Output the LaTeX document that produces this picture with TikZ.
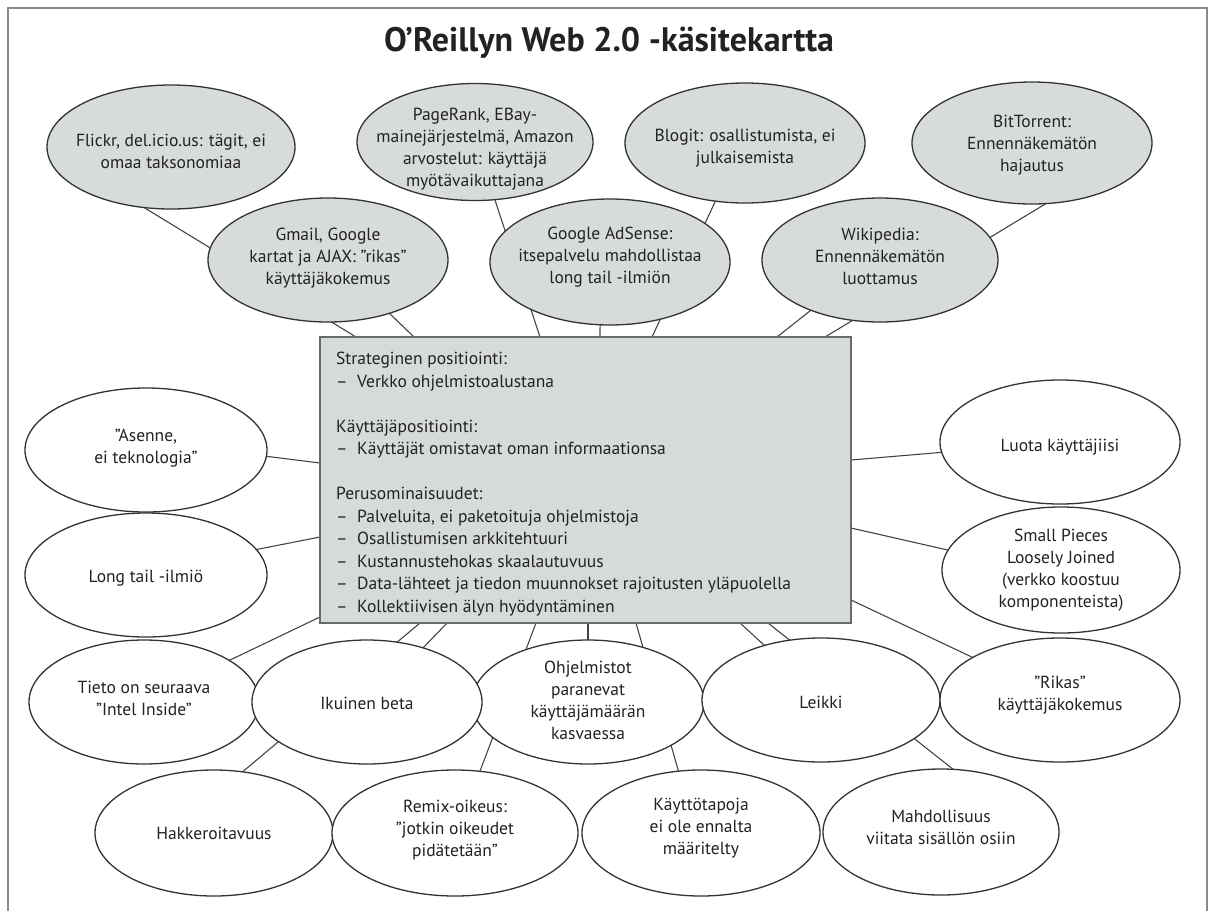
\documentclass[tikz,border=0pt]{standalone}
\usepackage{fontspec}
\setmainfont{PT Sans}
\usetikzlibrary{shapes.geometric,backgrounds}
\definecolor{elfill}{HTML}{D8DBDB}
\definecolor{boxfill}{HTML}{D6DADA}
\definecolor{edgec}{HTML}{333333}
\definecolor{linec}{HTML}{444444}
\definecolor{txtc}{HTML}{222222}
\definecolor{framec}{HTML}{8A8A8A}
\definecolor{boxedge}{HTML}{6A6A6A}
\newcommand{\dl}{\makebox[21pt][l]{–}}
\tikzset{
  elbase/.style={ellipse, draw=edgec, line width=1.3pt, inner sep=0pt, outer sep=0pt},
  gel/.style 2 args={elbase, fill=elfill, minimum width=#1, minimum height=#2},
  wel/.style 2 args={elbase, fill=white, minimum width=#1, minimum height=#2},
  lbl/.style={align=center, text=txtc, font=\fontsize{17.5}{22}\selectfont, inner sep=0pt},
  conn/.style={draw=linec, line width=1.1pt},
  boxst/.style={draw=boxedge, fill=boxfill, line width=1.5pt, inner sep=0pt, outer sep=0pt},
  boxtxt/.style={align=left, text=txtc, font=\fontsize{17.5}{22.5}\selectfont, inner sep=0pt},
  titlest/.style={text=txtc, font=\fontsize{34}{40}\selectfont\bfseries, inner sep=0pt},
}
\begin{document}
\begin{tikzpicture}[x=1pt, y=-1pt]
\useasboundingbox (0,0) rectangle (1218,911);

\node[titlest, anchor=base] (title) at (609,51) {O’Reillyn Web 2.0 -käsitekartta};

% central box
\node[boxst, minimum width=531pt, minimum height=286pt, anchor=north west] (box) at (320,337) {};
\node[boxtxt, anchor=north west] (boxtext) at (336,352) {Strateginen positiointi:\\
\dl Verkko ohjelmistoalustana\\[22.5pt]
Käyttäjäpositiointi:\\
\dl Käyttäjät omistavat oman informaationsa\\[22.5pt]
Perusominaisuudet:\\
\dl Palveluita, ei paketoituja ohjelmistoja\\
\dl Osallistumisen arkkitehtuuri\\
\dl Kustannustehokas skaalautuvuus\\
\dl Data-lähteet ja tiedon muunnokset rajoitusten yläpuolella\\
\dl Kollektiivisen älyn hyödyntäminen};

% top grey ellipses
\node[gel={248pt}{124pt}] (flickr) at (171,147) {};
\node[gel={236pt}{117pt}] (pagerank) at (475,142) {};
\node[gel={240pt}{120pt}] (blogit) at (745,143) {};
\node[gel={240pt}{122pt}] (bittorrent) at (1032,143) {};
\node[gel={240pt}{124pt}] (gmail) at (328,260) {};
\node[gel={240pt}{126pt}] (adsense) at (610,262) {};
\node[gel={236pt}{124pt}] (wikipedia) at (880,260) {};

% white ellipses
\node[wel={242pt}{124pt}] (asenne) at (146,450) {};
\node[wel={242pt}{124pt}] (longtail) at (146,575) {};
\node[wel={240pt}{124pt}] (luota) at (1060,442) {};
\node[wel={238pt}{126pt}] (small) at (1061,570) {};
\node[wel={230pt}{124pt}] (tieto) at (144,702) {};
\node[wel={232pt}{124pt}] (ohjelm) at (588,702) {};
\node[wel={230pt}{124pt}] (ikuinen) at (367,702) {};
\node[wel={238pt}{124pt}] (leikki) at (821,700) {};
\node[wel={240pt}{124pt}] (rikas) at (1060,700) {};
\node[wel={238pt}{126pt}] (hakker) at (214,833) {};
\node[wel={246pt}{126pt}] (remix) at (455,833) {};
\node[wel={238pt}{126pt}] (kaytto) at (701,833) {};
\node[wel={236pt}{126pt}] (mahd) at (941,832) {};

% labels
\node[lbl] (flickrT) at (171,151) {Flickr, del.icio.us: tägit, ei\\omaa taksonomiaa};
\node[lbl] (pagerankT) at (475,149) {PageRank, EBay-\\mainejärjestelmä, Amazon\\arvostelut: käyttäjä\\myötävaikuttajana};
\node[lbl] (blogitT) at (745,148) {Blogit: osallistumista, ei\\julkaisemista};
\node[lbl] (bittorrentT) at (1032,145) {BitTorrent:\\Ennennäkemätön\\hajautus};
\node[lbl] (gmailT) at (328,258) {Gmail, Google\\kartat ja AJAX: ”rikas”\\käyttäjäkokemus};
\node[lbl] (adsenseT) at (610,257) {Google AdSense:\\itsepalvelu mahdollistaa\\long tail -ilmiön};
\node[lbl] (wikipediaT) at (880,256) {Wikipedia:\\Ennennäkemätön\\luottamus};
\node[lbl] (asenneT) at (146,448) {”Asenne,\\ei teknologia”};
\node[lbl] (longtailT) at (146,578) {Long tail -ilmiö};
\node[lbl] (luotaT) at (1060,447) {Luota käyttäjiisi};
\node[lbl] (smallT) at (1061,570) {Small Pieces\\Loosely Joined\\(verkko koostuu\\komponenteista)};
\node[lbl] (tietoT) at (144,698) {Tieto on seuraava\\”Intel Inside”};
\node[lbl] (ikuinenT) at (367,703) {Ikuinen beta};
\node[lbl] (ohjelmT) at (588,700) {Ohjelmistot\\paranevat\\käyttäjämäärän\\kasvaessa};
\node[lbl] (leikkiT) at (821,702) {Leikki};
\node[lbl] (rikasT) at (1060,695) {”Rikas”\\käyttäjäkokemus};
\node[lbl] (hakkerT) at (214,833) {Hakkeroitavuus};
\node[lbl] (remixT) at (455,830) {Remix-oikeus:\\”jotkin oikeudet\\pidätetään”};
\node[lbl] (kayttoT) at (701,828) {Käyttötapoja\\ei ole ennalta\\määritelty};
\node[lbl] (mahdT) at (941,827) {Mahdollisuus\\viitata sisällön osiin};

% attachment points on the box
\coordinate (q1) at (356,337);
\coordinate (q2) at (414,337);
\coordinate (q3) at (540,337);
\coordinate (q4) at (600,337);
\coordinate (q5) at (652,337);
\coordinate (q6) at (777,337);
\coordinate (q7) at (825,337);
\coordinate (q8) at (320,463);
\coordinate (q9) at (320,537);
\coordinate (q10) at (320,617);
\coordinate (q11) at (420,623);
\coordinate (q12) at (447,623);
\coordinate (q13) at (536,623);
\coordinate (q14) at (588,623);
\coordinate (q15) at (636,623);
\coordinate (q16) at (740,623);
\coordinate (q17) at (768,623);
\coordinate (q18) at (851,600);
\coordinate (q19) at (851,528);
\coordinate (q20) at (851,460);

\begin{pgfonlayer}{background}
\draw[framec, line width=2pt] (8,911) -- (8,8) -- (1207,8) -- (1207,911);
\draw[conn] (flickr.-114) -- (q1);
\draw[conn] (gmail.-41) -- (q2);
\draw[conn] (pagerank.-71) -- (q3);
\draw[conn] (adsense.-99) -- (q4);
\draw[conn] (blogit.-117) -- (q5);
\draw[conn] (wikipedia.-144) -- (q6);
\draw[conn] (bittorrent.-77) -- (q7);
\draw[conn] (asenne.-3) -- (q8);
\draw[conn] (longtail.13) -- (q9);
\draw[conn] (tieto.26) -- (q10);
\draw[conn] (hakker.65) -- (q11);
\draw[conn] (ikuinen.44) -- (q12);
\draw[conn] (remix.68) -- (q13);
\draw[conn] (ohjelm.90) -- (q14);
\draw[conn] (kaytto.110) -- (q15);
\draw[conn] (leikki.136) -- (q16);
\draw[conn] (mahd.79) -- (q17);
\draw[conn] (rikas.154) -- (q18);
\draw[conn] (small.170) -- (q19);
\draw[conn] (luota.-175) -- (q20);
\end{pgfonlayer}
\end{tikzpicture}
\end{document}
